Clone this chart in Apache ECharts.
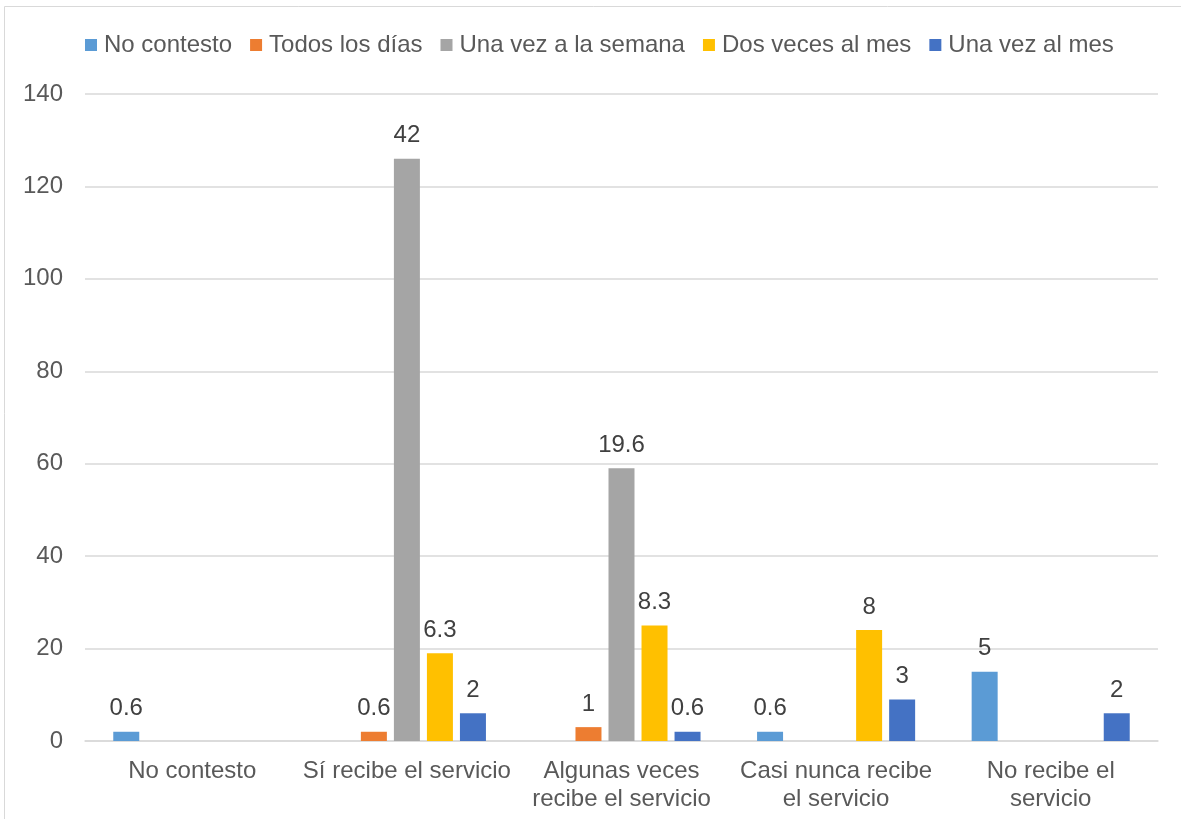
<!DOCTYPE html>
<html>
<head>
<meta charset="utf-8">
<script src="https://cdn.jsdelivr.net/npm/echarts@6/dist/echarts.min.js"></script>
<style>
html,body{margin:0;padding:0;background:#fff;}
#c{width:1181px;height:819px;}
</style>
</head>
<body>
<div id="c"></div>
<script>
const categories = ['No contesto', 'Sí recibe el servicio', 'Algunas veces\nrecibe el servicio', 'Casi nunca recibe\nel servicio', 'No recibe el\nservicio'];
const seriesNames = ['No contesto', 'Todos los días', 'Una vez a la semana', 'Dos veces al mes', 'Una vez al mes'];
const noContesto = [2, null, null, 2, 15];
const todosLosDias = [null, 2, 3, null, null];
const unaVezSemana = [null, 126, 59, null, null];
const dosVecesMes = [null, 19, 25, 24, null];
const unaVezMes = [null, 6, 2, 9, 6];
const noContestoLabels = ['0.6', '', '', '0.6', '5'];
const todosLosDiasLabels = ['', '0.6', '1', '', ''];
const unaVezSemanaLabels = ['', '42', '19.6', '', ''];
const dosVecesMesLabels = ['', '6.3', '8.3', '8', ''];
const unaVezMesLabels = ['', '2', '0.6', '3', '2'];
const yTicks = [0, 20, 40, 60, 80, 100, 120, 140];

const colors = ['#5B9BD5', '#ED7D31', '#A5A5A5', '#FFC000', '#4472C4'];
const values = [noContesto, todosLosDias, unaVezSemana, dosVecesMes, unaVezMes];
const labels = [noContestoLabels, todosLosDiasLabels, unaVezSemanaLabels, dosVecesMesLabels, unaVezMesLabels];
const font = 'Liberation Sans, Arial, sans-serif';
const textColor = '#595959';

const chart = echarts.init(document.getElementById('c'), null, {renderer: 'canvas'});
chart.setOption({
  animation: false,
  color: colors,
  textStyle: {fontFamily: font},
  graphic: [{
    type: 'rect', silent: true,
    shape: {x: 4.5, y: 6.5, width: 1400, height: 1000},
    style: {fill: 'none', stroke: '#d9d9d9', lineWidth: 1}
  }],
  legend: {
    left: 85, top: 33, padding: 0,
    itemWidth: 12, itemHeight: 12, itemGap: 18,
    icon: 'rect',
    textStyle: {fontSize: 24, color: textColor, fontFamily: font, padding: [0, 0, 0, 2]},
    data: seriesNames
  },
  grid: {left: 85, right: 23, top: 94, bottom: 78, containLabel: false},
  xAxis: {
    type: 'category',
    data: categories,
    axisLine: {lineStyle: {color: '#d9d9d9', width: 1.5}},
    axisTick: {show: false},
    axisLabel: {fontSize: 24, color: textColor, fontFamily: font, margin: 16, lineHeight: 28, interval: 0}
  },
  yAxis: {
    type: 'value',
    min: yTicks[0], max: yTicks[yTicks.length - 1], interval: 20,
    axisLine: {show: false},
    axisTick: {show: false},
    splitLine: {lineStyle: {color: '#d9d9d9', width: 1.5}},
    axisLabel: {fontSize: 24, color: textColor, fontFamily: font, margin: 22}
  },
  series: values.map((v, i) => ({
    name: seriesNames[i],
    type: 'bar',
    data: v,
    barWidth: 26,
    barGap: '27%',
    itemStyle: {color: colors[i]},
    label: {
      show: true, position: 'top', distance: 11,
      fontSize: 24, color: '#404040', fontFamily: font,
      formatter: p => labels[i][p.dataIndex]
    }
  }))
});
</script>
</body>
</html>
